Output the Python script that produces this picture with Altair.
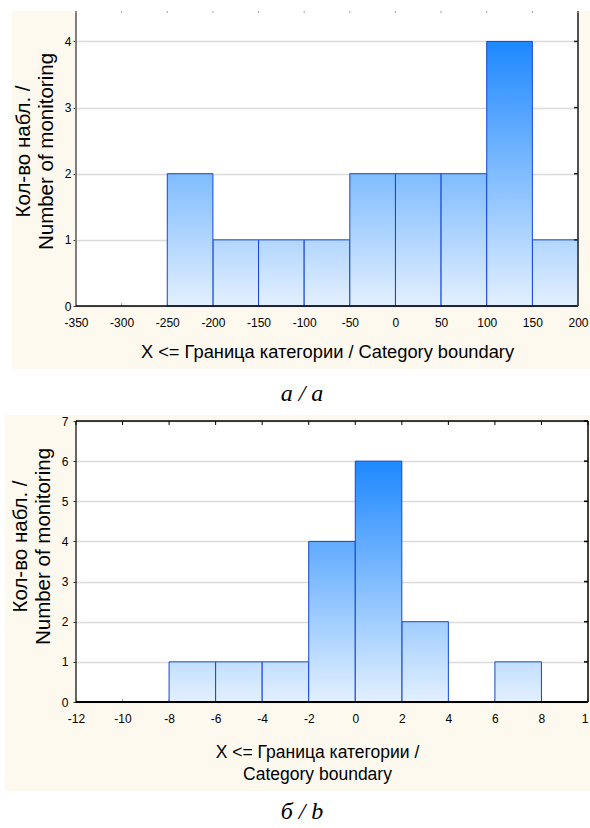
import altair as alt
import pandas as pd

# ---------------- data ----------------
A_BIN_START = [-250, -200, -150, -100, -50, 0, 50, 100, 150]
A_BIN_END = [-200, -150, -100, -50, 0, 50, 100, 150, 200]
A_COUNT = [2, 1, 1, 1, 2, 2, 2, 4, 1]
A_XTICKS = [-350, -300, -250, -200, -150, -100, -50, 0, 50, 100, 150, 200]
A_YTICKS = [0, 1, 2, 3, 4]

B_BIN_START = [-8, -6, -4, -2, 0, 2, 6]
B_BIN_END = [-6, -4, -2, 0, 2, 4, 8]
B_COUNT = [1, 1, 1, 4, 6, 2, 1]
B_XTICKS = [-12, -10, -8, -6, -4, -2, 0, 2, 4, 6, 8, 10]
B_YTICKS = [0, 1, 2, 3, 4, 5, 6, 7]

Y_TITLE = ["Кол-во набл. /", "Number of monitoring"]
A_X_TITLE = "X <= Граница категории / Category boundary"
B_X_TITLE = ["X <= Граница категории /", "Category boundary"]
CAPTION_A = ["а / a"]
CAPTION_B = ["б / b"]

# ---------------- style ----------------
SANS = "Liberation Sans"
SERIF = "Liberation Serif"
CREAM = "#FDF9EE"
BOTTOM_C = (0xE3, 0xF0, 0xFF)
TOP_C = (0x1E, 0x88, 0xFF)
BAR_STROKE = "#1446D2"


def mix(t):
    c = [round(b + (tp - b) * t) for b, tp in zip(BOTTOM_C, TOP_C)]
    return "#%02X%02X%02X" % tuple(c)


def grad(h, hmax):
    return {
        "gradient": "linear", "x1": 0, "y1": 1, "x2": 0, "y2": 0,
        "stops": [{"offset": 0, "color": mix(0)}, {"offset": 1, "color": mix(h / hmax)}],
    }


def vrect(x, x2, y, y2, color="white"):
    return alt.Chart(pd.DataFrame({"k": [0]})).mark_rect(color=color).encode(
        x=alt.value(x), x2=alt.value(x2), y=alt.value(y), y2=alt.value(y2))


def vrule(x, x2, y, y2, color, w):
    return alt.Chart(pd.DataFrame({"k": [0]})).mark_rule(color=color, strokeWidth=w).encode(
        x=alt.value(x), x2=alt.value(x2), y=alt.value(y), y2=alt.value(y2))


def panel(starts, ends, counts, xticks, yticks, xdom, ymax, W, H,
          xtitle, xtitle_size, xtitle_y, xtitle_x, ytitle_x, ytitle_y, ylabpad,
          caption, cap_y, whites, frame, top_tick, right_tick, last_label, last_value):
    df = pd.DataFrame({"x0": starts, "x1": ends, "c": counts})
    xs = alt.Scale(domain=xdom, nice=False, zero=False)
    ys = alt.Scale(domain=[0, ymax], nice=False)
    xax = alt.Axis(values=xticks, title=xtitle, domain=False, ticks=False, grid=False,
                   labelExpr=last_label, labelFont=SANS, labelFontSize=12,
                   labelColor="black", labelPadding=16, labelBaseline="middle",
                   labelAlign={"condition": {"test": "datum.value == %s" % last_value,
                                             "value": "right"}, "value": "center"},
                   labelFlush=False, labelOverlap=False,
                   titleFont=SANS, titleFontSize=xtitle_size, titleFontWeight="normal",
                   titleColor="black", titleX=xtitle_x, titleY=xtitle_y,
                   titleBaseline="middle", titleAlign="center", titleLineHeight=22)
    yax = alt.Axis(values=yticks, title=Y_TITLE, domain=False, ticks=True, tickSize=3,
                   tickColor="#333333", grid=True, gridColor="#DADADA", gridWidth=1.5,
                   labelFont=SANS, labelFontSize=12, labelColor="black",
                   labelPadding=ylabpad, labelFlush=False,
                   titleFont=SANS, titleFontSize=20.5, titleFontWeight="normal",
                   titleColor="black", titleAngle=270, titleX=ytitle_x, titleY=ytitle_y,
                   titleBaseline="middle", titleAlign="center", titleLineHeight=23)

    layers = [vrect(*w) for w in whites]

    # inward bottom ticks (under bars)
    layers.append(
        alt.Chart(pd.DataFrame({"v": xticks})).mark_rule(color="#9A9A9A", strokeWidth=1).encode(
            x=alt.X("v:Q", scale=xs, axis=xax), y=alt.value(H - 3), y2=alt.value(H)))
    layers.append(
        alt.Chart(pd.DataFrame({"v": yticks})).mark_rule(opacity=0).encode(
            y=alt.Y("v:Q", scale=ys, axis=yax)))

    hmax = max(counts)
    for h in sorted(set(counts)):
        layers.append(
            alt.Chart(df).transform_filter(alt.datum.c == h)
            .mark_rect(fill=grad(h, hmax), stroke=BAR_STROKE, strokeWidth=1)
            .encode(x=alt.X("x0:Q", scale=xs, axis=xax), x2="x1:Q",
                    y=alt.Y("c:Q", scale=ys, axis=yax), y2=alt.datum(0)))

    for f in frame:
        layers.append(vrule(*f))
    if top_tick:
        col, ln = top_tick
        layers.append(
            alt.Chart(pd.DataFrame({"v": xticks})).mark_rule(color=col, strokeWidth=1).encode(
                x=alt.X("v:Q", scale=xs, axis=xax), y=alt.value(0), y2=alt.value(ln)))
    col, ln = right_tick
    layers.append(
        alt.Chart(pd.DataFrame({"v": yticks})).mark_rule(color=col, strokeWidth=1.5).encode(
            y=alt.Y("v:Q", scale=ys, axis=yax), x=alt.value(W - ln), x2=alt.value(W)))

    layers.append(
        alt.Chart(pd.DataFrame({"t": caption})).mark_text(
            font=SERIF, fontStyle="italic", fontSize=24, color="black").encode(
            text="t:N", x=alt.value(226), y=alt.value(cap_y)))

    return alt.layer(*layers).properties(width=W, height=H)


WA, HA = 502, 295
WB, HB = 512, 281

chart_a = panel(
    A_BIN_START, A_BIN_END, A_COUNT, A_XTICKS, A_YTICKS, [-350, 200], 4.46, WA, HA,
    A_X_TITLE, 18.3, 46, 251, -53, 140, 2,
    CAPTION_A, 383,
    whites=[(-76, 514, -11, 0), (-76, -64, 0, 358), (-76, 514, 358, 404)],
    frame=[(0, 0, 0, HA, "#7F7F7F", 2), (0, WA, HA, HA, "black", 1.5),
           (WA, WA, 0, HA, "#505050", 2)],
    top_tick=("#A0A0A0", 2), right_tick=("#222222", 4),
    last_label="'' + datum.value", last_value=99999)

chart_b = panel(
    B_BIN_START, B_BIN_END, B_COUNT, B_XTICKS, B_YTICKS, [-12, 10], 7, WB, HB,
    B_X_TITLE, 17.5, 50, 241, -56, 125, 5,
    CAPTION_B, 391,
    whites=[(-76, -71, -6, 370), (-76, 514, 370, 407)],
    frame=[(0, 0, 0, HB, "#333333", 1.5), (0, WB, HB, HB, "black", 2),
           (WB, WB, 0, HB, "black", 1.5), (0, WB, 0, 0, "black", 1.5)],
    top_tick=("black", 4), right_tick=("black", 4),
    last_label="datum.value == 10 ? '1' : '' + datum.value", last_value=10)

chart = alt.vconcat(chart_a, chart_b, spacing=115, bounds="flush").properties(
    padding=0, background=CREAM
).configure_view(fill="white", strokeWidth=0)

chart.save("out.html", embed_options={"renderer": "svg", "actions": False})
